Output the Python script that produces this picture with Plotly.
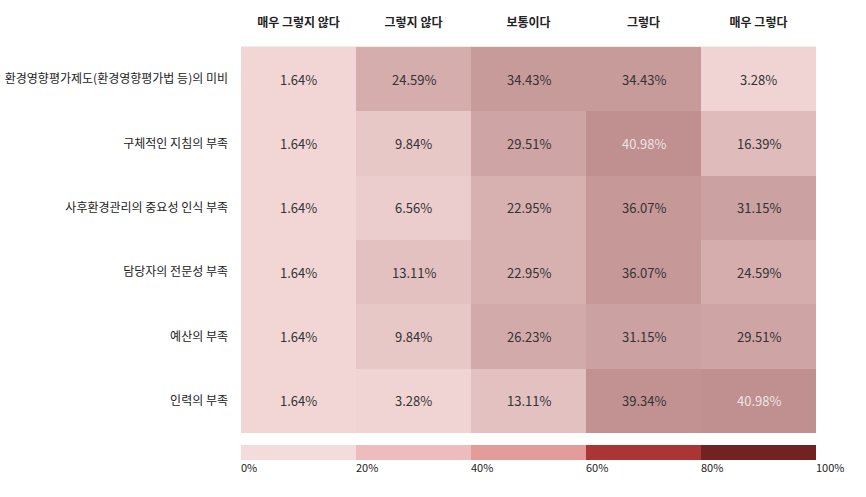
import plotly.graph_objects as go

columns = ["매우 그렇지 않다", "그렇지 않다", "보통이다", "그렇다", "매우 그렇다"]
rows = ["환경영향평가제도(환경영향평가법 등)의 미비", "구체적인 지침의 부족", "사후환경관리의 중요성 인식 부족",
        "담당자의 전문성 부족", "예산의 부족", "인력의 부족"]
r1 = [1.64, 24.59, 34.43, 34.43, 3.28]
r2 = [1.64, 9.84, 29.51, 40.98, 16.39]
r3 = [1.64, 6.56, 22.95, 36.07, 31.15]
r4 = [1.64, 13.11, 22.95, 36.07, 24.59]
r5 = [1.64, 9.84, 26.23, 31.15, 29.51]
r6 = [1.64, 3.28, 13.11, 39.34, 40.98]
values = [r1, r2, r3, r4, r5, r6]

legend_bins = [10, 30, 50, 70, 90]
legend_colors = ["#f5dcdc", "#edbcbc", "#e29c9a", "#ab3434", "#732222"]
legend_ticks = [0, 20, 40, 60, 80, 100]
legend_labels = ["0%", "20%", "40%", "60%", "80%", "100%"]

FONT = "Noto Sans CJK KR, Noto Sans, sans-serif"

fig = go.Figure()
fig.add_trace(go.Heatmap(
    z=values, x=columns, y=rows,
    zmin=0, zmax=41,
    colorscale=[[0, "#f4d9d9"], [1, "#c08f8f"]],
    showscale=False, xgap=0, ygap=0, hoverinfo="skip",
    xaxis="x", yaxis="y",
))

annotations = []
for i, rname in enumerate(rows):
    for j, cname in enumerate(columns):
        v = values[i][j]
        annotations.append(dict(
            x=cname, y=rname, xref="x", yref="y", text=f"{v:.2f}%", showarrow=False,
            font=dict(family=FONT, size=13, color="#ece4e4" if v > 40 else "#333333"),
        ))

n = len(legend_bins)
dscale = []
for k, c in enumerate(legend_colors):
    dscale.append([k / n, c])
    dscale.append([(k + 1) / n, c])
fig.add_trace(go.Heatmap(
    z=[list(range(n))], x=legend_bins, y=[0],
    zmin=-0.5, zmax=n - 0.5,
    colorscale=dscale,
    showscale=False, hoverinfo="skip", xaxis="x2", yaxis="y2",
))

W, H = 866, 497
L, R, T, B = 241, 50, 47, 37
ph = H - T - B  # plot height in px


def yd(top_px, bottom_px):
    return [(H - B - bottom_px) / ph, (H - B - top_px) / ph]


fig.update_layout(
    width=W, height=H,
    margin=dict(l=L, r=R, t=T, b=B, autoexpand=False),
    paper_bgcolor="white", plot_bgcolor="white",
    font=dict(family=FONT, size=12, color="#222222"),
    annotations=annotations,
    xaxis=dict(domain=[0, 1], side="top", showgrid=False, zeroline=False, automargin=False,
               tickfont=dict(family=FONT, size=12, color="#222222", weight="bold"),
               ticks="", ticklabelstandoff=14, showline=True, linecolor="#eeeeee", linewidth=1),
    yaxis=dict(domain=yd(47, 433), autorange="reversed", showgrid=False, zeroline=False, automargin=False,
               ticks="", ticklabelstandoff=12, tickfont=dict(family=FONT, size=12, color="#222222")),
    xaxis2=dict(domain=[0, 1], anchor="y2", range=[0, 100], tickvals=legend_ticks, automargin=False,
                ticktext=legend_labels, ticks="", showgrid=False, zeroline=False,
                ticklabelposition="outside right", tickfont=dict(family=FONT, size=11, color="#222222")),
    yaxis2=dict(domain=yd(445, 460), anchor="x2", showticklabels=False, showgrid=False, automargin=False,
                zeroline=False, range=[-0.5, 0.5]),
)

fig.write_html("out.html")
